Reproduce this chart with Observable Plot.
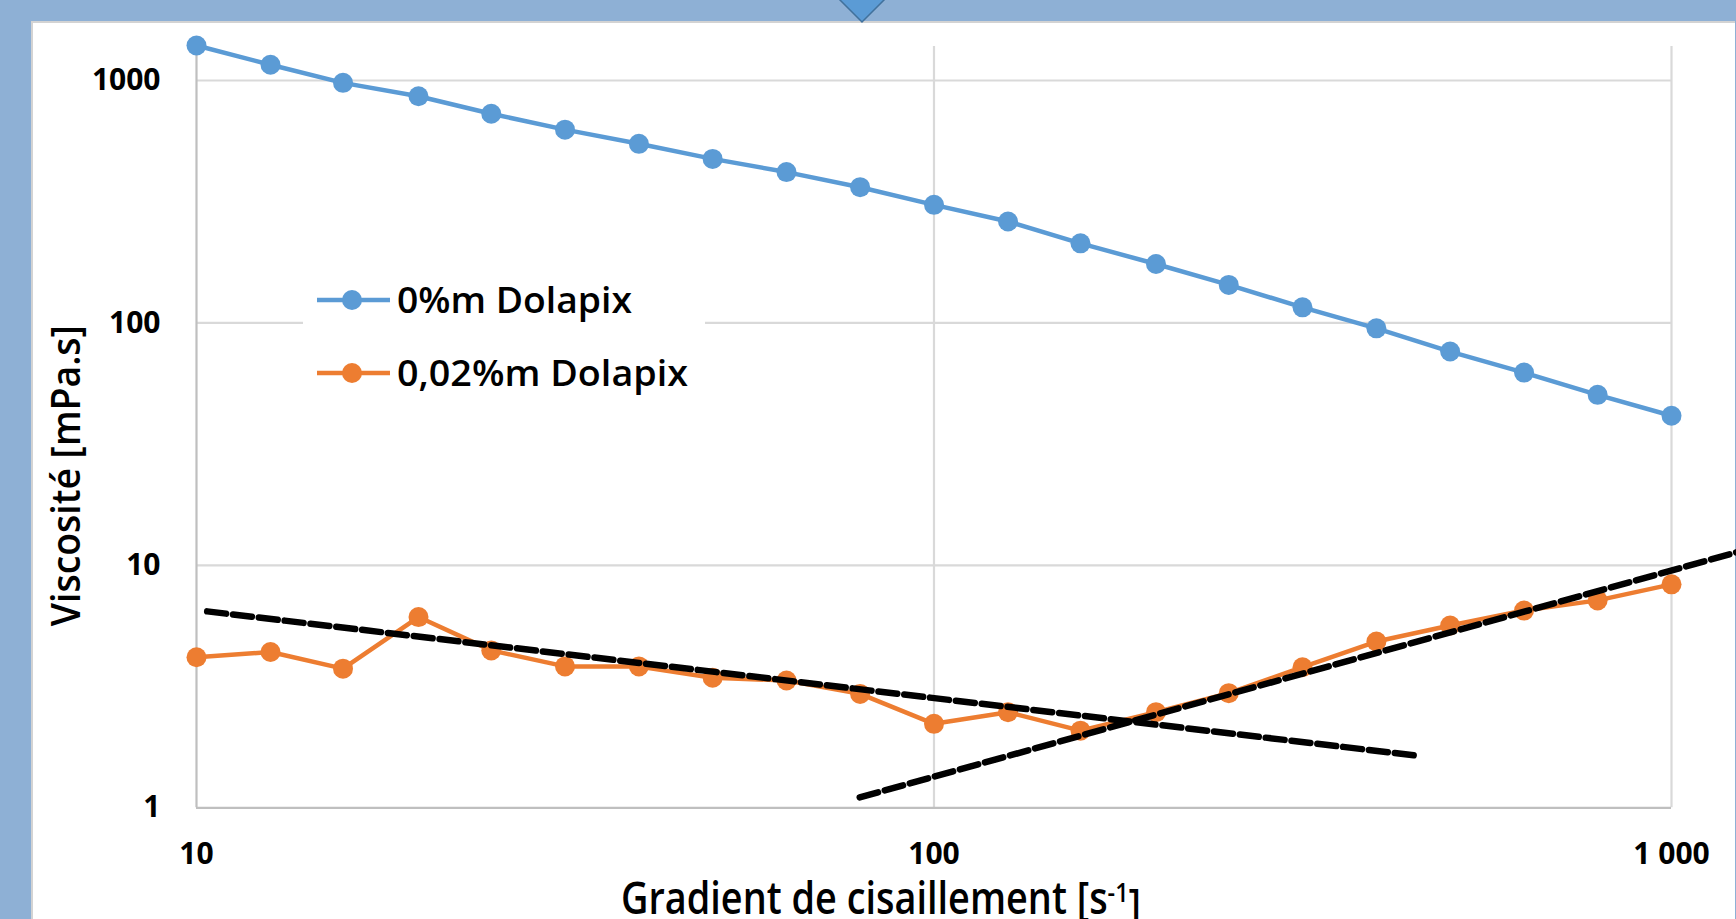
<!DOCTYPE html>
<html><head><meta charset="utf-8">
<script src="https://cdn.jsdelivr.net/npm/d3@7"></script>
<script src="https://cdn.jsdelivr.net/npm/@observablehq/plot@0.6"></script>
<style>
html,body{margin:0;padding:0;overflow:hidden;background:#8eb0d5;}
#stage{position:relative;width:1736px;height:919px;background:#8eb0d5;overflow:hidden;font-family:"Open Sans",sans-serif;}
#panel{position:absolute;left:31px;top:21px;width:1702px;height:920px;background:#fff;border-left:2px solid #d3d3d3;border-top:2px solid #d3d3d3;}
#chart{position:absolute;left:0;top:0;}
#tri{position:absolute;left:0;top:0;}
#legend{position:absolute;left:303px;top:262px;}
</style></head>
<body>
<div id="stage">
  <div id="panel"></div>
  <div id="chart"></div>
  <svg id="tri" width="1736" height="40"><polygon points="837,-3 887,-3 862,22" fill="#5b9bd5" stroke="#41719c" stroke-width="1.5"/></svg>
  <svg id="legend" width="402" height="138"></svg>
</div>
<script>
// ---- data ----
const shear = [10, 12.6, 15.8, 20, 25.1, 31.6, 39.8, 50.1, 63.1, 79.4, 100, 126, 158, 200, 251, 316, 398, 501, 631, 794, 1000];
const visc0 = [1394, 1161, 978, 861, 729, 627, 548, 475, 419, 363, 307, 262, 213, 175, 143.5, 116, 95, 76.2, 62.4, 50.5, 41.4];
const visc002 = [4.18, 4.39, 3.75, 6.12, 4.46, 3.83, 3.83, 3.44, 3.35, 2.95, 2.22, 2.48, 2.08, 2.48, 2.97, 3.80, 4.85, 5.65, 6.51, 7.17, 8.35];
const seriesNames = ["0%m Dolapix", "0,02%m Dolapix"];
const seriesColors = ["#5b9bd5", "#ed7d31"];
const trendLowX = [10.34, 452];
const trendLowY = [6.46, 1.64];
const trendHighX = [79.3, 1225];
const trendHighY = [1.103, 11.32];
const xTicks = [10, 100, 1000];
const xTickLabels = ["10", "100", "1 000"];
const yTicks = [1, 10, 100, 1000];
const yTickLabels = ["1", "10", "100", "1000"];
const yAxisTop = 1380;
const xTitle = "Gradient de cisaillement [s-1]";
const yTitle = "Viscosité [mPa.s]";

const rows0 = shear.map((s, i) => ({x: s, y: visc0[i]}));
const rows1 = shear.map((s, i) => ({x: s, y: visc002[i]}));
const tLow = trendLowX.map((x, i) => ({x, y: trendLowY[i]}));
const tHigh = trendHighX.map((x, i) => ({x, y: trendHighY[i]}));

const plot = Plot.plot({
  width: 1736, height: 919,
  marginLeft: 196, marginRight: 65, marginTop: 80, marginBottom: 111.7,
  x: {type: "log", domain: [10, 1000], axis: null},
  y: {type: "log", domain: [1, 1000], axis: null},
  style: {background: "transparent", overflow: "visible", fontFamily: "'Open Sans', sans-serif", color: "#000"},
  marks: [
    Plot.ruleY(yTicks.slice(1), {x1: 10, x2: 1000, stroke: "#d9d9d9", strokeWidth: 2.2}),
    Plot.ruleX(xTicks.slice(1), {y1: 1, y2: yAxisTop, stroke: "#d9d9d9", strokeWidth: 2.2}),
    Plot.ruleX([10], {y1: 1, y2: yAxisTop, stroke: "#bfbfbf", strokeWidth: 2.2}),
    Plot.ruleY([1], {x1: 10, x2: 1000, stroke: "#bfbfbf", strokeWidth: 2.2}),
    Plot.line(rows0, {x: "x", y: "y", stroke: seriesColors[0], strokeWidth: 4.5}),
    Plot.dot(rows0, {x: "x", y: "y", r: 10, fill: seriesColors[0]}),
    Plot.line(rows1, {x: "x", y: "y", stroke: seriesColors[1], strokeWidth: 4.5}),
    Plot.dot(rows1, {x: "x", y: "y", r: 10, fill: seriesColors[1]}),
    Plot.line(tLow, {x: "x", y: "y", stroke: "#000", strokeWidth: 6.5, strokeDasharray: "19,7"}),
    Plot.line(tHigh, {x: "x", y: "y", stroke: "#000", strokeWidth: 6.5, strokeDasharray: "19,7"}),
    Plot.text(yTicks, {x: 10, y: d => d, text: (d, i) => yTickLabels[i], dx: -36, textAnchor: "end", lineAnchor: "middle", fontSize: 30, fontWeight: 700}),
    Plot.text(xTicks, {x: d => d, y: 1, text: (d, i) => xTickLabels[i], dy: 46.5, textAnchor: "middle", lineAnchor: "middle", fontSize: 30, fontWeight: 700}),
    Plot.text([yTitle], {frameAnchor: "left", text: d => d, rotate: -90, dx: -128.5, dy: 182, textAnchor: "start", lineAnchor: "middle", fontSize: 39, fontWeight: 600}),
    Plot.text([xTitle], {frameAnchor: "bottom", text: d => d, dx: -53, dy: 105.7, lineAnchor: "bottom", fontSize: 45, fontWeight: 600})
  ]
});
document.getElementById("chart").appendChild(plot);

// axis title fine-tuning (condensed widths, superscript)
d3.select(plot).selectAll("text").each(function() {
  const t = this.textContent;
  if (t === yTitle) {
    d3.select(this).attr("textLength", 301).attr("lengthAdjust", "spacingAndGlyphs");
  } else if (t === xTitle) {
    const sel = d3.select(this);
    sel.text(null);
    sel.append("tspan").text("Gradient de cisaillement [s");
    sel.append("tspan").attr("dy", "-0.42em").attr("font-size", "0.62em").text("-1");
    sel.append("tspan").attr("dy", "0.42em").text("]");
    sel.attr("textLength", 520).attr("lengthAdjust", "spacingAndGlyphs");
  }
});

// legend
const lg = d3.select("#legend");
lg.append("rect").attr("width", 402).attr("height", 138).attr("fill", "#fff");
const rowsY = [38, 111];
const textLens = [235, 291];
seriesNames.forEach((name, i) => {
  const g = lg.append("g").attr("transform", `translate(0,${rowsY[i]})`);
  g.append("line").attr("x1", 14).attr("x2", 87).attr("stroke", seriesColors[i]).attr("stroke-width", 4.5);
  g.append("circle").attr("cx", 49).attr("r", 10).attr("fill", seriesColors[i]);
  g.append("text").attr("x", 94).attr("y", 13).attr("font-family", "'Open Sans', sans-serif")
    .attr("font-size", 36).attr("font-weight", 600).attr("textLength", textLens[i])
    .attr("lengthAdjust", "spacingAndGlyphs").text(name);
});
</script>
</body></html>
